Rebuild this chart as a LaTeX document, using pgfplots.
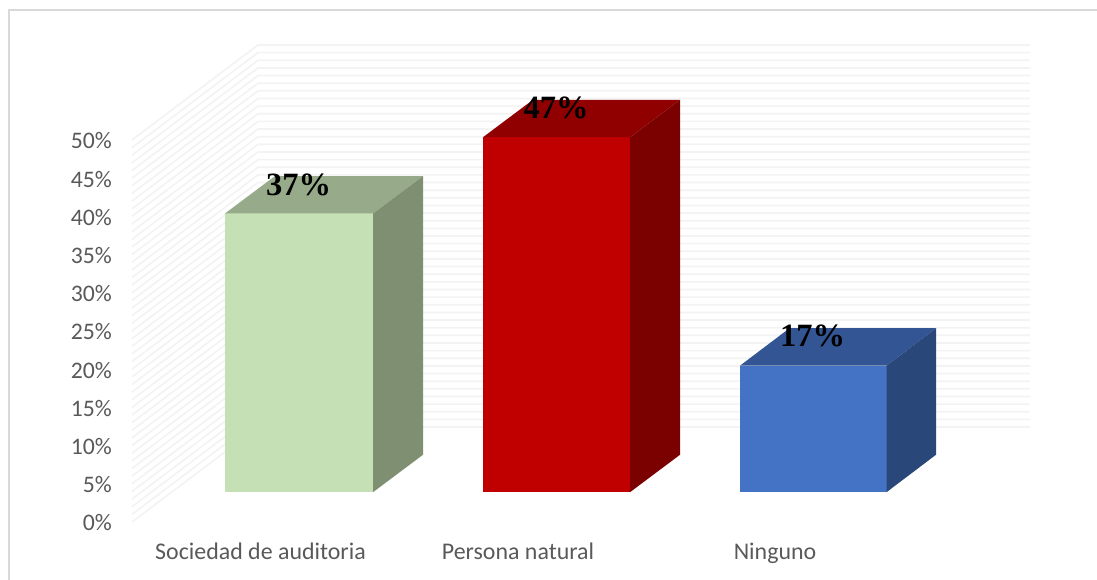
\documentclass[border=0pt]{standalone}
\usepackage{pgfplots}
\usepackage{fontspec}
\pgfplotsset{compat=1.18}
\setmainfont{Carlito}
\newfontfamily\lab{Liberation Serif}
\definecolor{txt}{HTML}{595959}
\definecolor{gridc}{HTML}{F3F3F3}
\definecolor{frm}{HTML}{D9D9D9}
\definecolor{gf}{HTML}{C5E0B4}\definecolor{gt}{HTML}{97AB8A}\definecolor{gs}{HTML}{7F9072}
\definecolor{rf}{HTML}{C00000}\definecolor{rt}{HTML}{900000}\definecolor{rs}{HTML}{7B0000}
\definecolor{bf}{HTML}{4472C4}\definecolor{bt}{HTML}{335594}\definecolor{bs}{HTML}{2A4779}
\begin{document}
\begin{tikzpicture}
\useasboundingbox (0,0) rectangle (1097pt,580pt);
\begin{axis}[
  at={(0,0)}, anchor=south west,
  scale only axis, width=1097pt, height=580pt,
  xmin=0, xmax=1097, ymin=-7.59, ymax=68.32,
  axis line style={draw=none},
  major tick length=0pt,
  tick style={draw=none},
  ytick={0,5,...,50},
  yticklabels={0\%,5\%,10\%,15\%,20\%,25\%,30\%,35\%,40\%,45\%,50\%},
  y tick label style={anchor=east, xshift=112pt, yshift=-1pt, inner sep=0pt, text=txt, font=\fontsize{23.7}{26}\selectfont},
  xtick={260.5,518,775},
  xticklabels={Sociedad de auditoria,Persona natural,Ninguno},
  x tick label style={anchor=base, yshift=20.5pt, inner sep=0pt, text=txt, font=\fontsize{23.9}{26}\selectfont},
  clip=false,
]
% frame
\addplot[frm, line width=2.5pt, forget plot] coordinates {(9,-7.59)(9,67.0)(1097,67.0)};
% wall grid lines
\pgfplotsforeachungrouped \v in {0,...,50}{
  \pgfmathsetmacro\w{\v+12.43}
  \edef\tmp{\noexpand\addplot[gridc, line width=1.7pt, forget plot] coordinates {(132,\v)(258,\w)(1030,\w)};}
  \tmp
}
% Sociedad de auditoria
\addplot[fill=gf, draw=none] coordinates {(225,3.9)(373,3.9)(373,40.38)(225,40.38)} --cycle;
\addplot[fill=gt, draw=none] coordinates {(225,40.38)(373,40.38)(423,45.28)(275,45.28)} --cycle;
\addplot[fill=gs, draw=none] coordinates {(373,3.9)(423,8.8)(423,45.28)(373,40.38)} --cycle;
% Persona natural
\addplot[fill=rf, draw=none] coordinates {(483,3.9)(630,3.9)(630,50.36)(483,50.36)} --cycle;
\addplot[fill=rt, draw=none] coordinates {(483,50.36)(630,50.36)(680,55.26)(533,55.26)} --cycle;
\addplot[fill=rs, draw=none] coordinates {(630,3.9)(680,8.8)(680,55.26)(630,50.36)} --cycle;
% Ninguno
\addplot[fill=bf, draw=none] coordinates {(740,3.9)(886.5,3.9)(886.5,20.46)(740,20.46)} --cycle;
\addplot[fill=bt, draw=none] coordinates {(740,20.46)(886.5,20.46)(936,25.36)(789.5,25.36)} --cycle;
\addplot[fill=bs, draw=none] coordinates {(886.5,3.9)(936,8.8)(936,25.36)(886.5,20.46)} --cycle;
% data labels
\node[font=\lab\bfseries\fontsize{32.5}{34}\selectfont, text=black, inner sep=0pt] at (axis cs:298.5,44.1) {37\%};
\node[font=\lab\bfseries\fontsize{32.5}{34}\selectfont, text=black, inner sep=0pt] at (axis cs:556,54.2) {47\%};
\node[font=\lab\bfseries\fontsize{32.5}{34}\selectfont, text=black, inner sep=0pt] at (axis cs:812.5,24.3) {17\%};
\end{axis}
\end{tikzpicture}
\end{document}
